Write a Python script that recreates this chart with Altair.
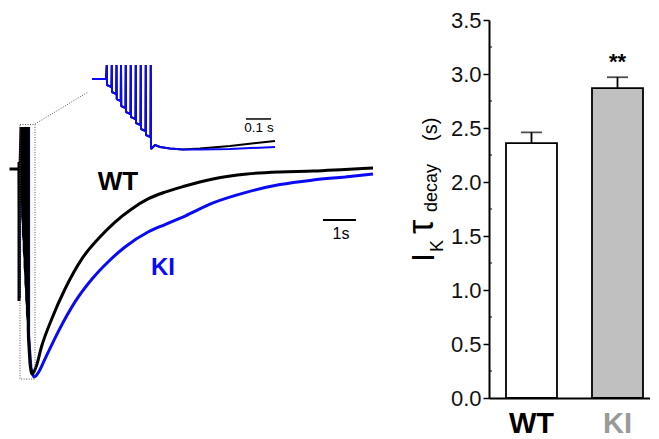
import altair as alt
import pandas as pd

# ---------------- bar chart data ----------------
groups = ["WT", "KI"]
tau_mean = [2.36, 2.87]
tau_sem = [0.10, 0.10]
sig_text = ["", "**"]
y_ticks = [0.0, 0.5, 1.0, 1.5, 2.0, 2.5, 3.0, 3.5]
y_minor = [0.25, 0.75, 1.25, 1.75, 2.25, 2.75, 3.25]

# ---------------- main traces: time (s), normalized current ----------------
wt_pre_t = [-0.318, -0.03, -0.03, -0.03, -0.02, 0.0]
wt_pre_i = [0.0, 0.0, 0.034, -0.635, 0.0, 0.0]
ki_pre_t = [-0.03, -0.02, -0.01, 0.0]
ki_pre_i = [0.0, -0.30, -0.62, 0.0]
stim_t = [0.030, 0.054, 0.079, 0.103, 0.127, 0.152, 0.176, 0.200, 0.224, 0.248]
stim_top = 0.202
wt_stim_bottom = [-0.048, -0.144, -0.231, -0.317, -0.394, -0.471, -0.548, -0.625, -0.697, -0.769]
ki_stim_t = [0.050, 0.074, 0.099, 0.123, 0.147, 0.172, 0.196, 0.220, 0.244, 0.268]
ki_stim_bottom = [-0.06, -0.16, -0.25, -0.34, -0.42, -0.50, -0.58, -0.66, -0.73, -0.80]
wt_stim_end_t = [0.258, 0.303]
wt_stim_end_i = [-0.817, -0.938]
ki_stim_end_t = [0.29, 0.34]
ki_stim_end_i = [-0.85, -0.96]
wt_rec_t = [0.303, 0.364, 0.485, 0.658, 0.961, 1.364, 1.870, 2.364, 2.879, 3.385,
            3.879, 4.394, 5.0, 5.848, 6.879, 7.879, 8.879, 9.848, 10.697]
wt_rec_i = [-0.938, -0.986, -0.952, -0.851, -0.721, -0.577, -0.433, -0.337, -0.255,
            -0.192, -0.144, -0.111, -0.082, -0.048, -0.024, -0.014, -0.010, -0.002, 0.005]
ki_rec_t = [0.34, 0.424, 0.545, 0.758, 1.152, 1.667, 2.182, 2.667, 3.182, 3.879,
            4.394, 5.0, 5.848, 6.879, 7.879, 8.879, 9.848, 10.697]
ki_rec_i = [-0.96, -1.0, -0.981, -0.913, -0.784, -0.639, -0.529, -0.447, -0.375,
            -0.303, -0.267, -0.226, -0.163, -0.111, -0.075, -0.053, -0.038, -0.024]

# ---------------- inset traces (expanded time) ----------------
in_pre_t = [0.0, 0.056]
in_pre_i = [0.0, 0.0]
in_spike_t = [0.059, 0.079, 0.098, 0.116, 0.135, 0.155, 0.175, 0.195, 0.215, 0.235]
in_top = 0.2
in_spike_bottom = [-0.086, -0.186, -0.286, -0.386, -0.471, -0.543, -0.629, -0.714, -0.800, -1.0]
in_post_t = [0.252, 0.272, 0.312, 0.364]
in_post_i = [-0.943, -0.971, -0.993, -1.007]
in_wt_end_t = [0.432, 0.552, 0.732]
in_wt_end_i = [-0.993, -0.957, -0.886]
in_ki_end_t = [0.432, 0.552, 0.732]
in_ki_end_i = [-1.007, -1.0, -0.971]

# zoom box / scale bars (data units)
box_t = [0.0, 0.455]
box_i = [-1.01, 0.214]
link_t = [0.455, 2.06]
link_i = [0.216, 0.370]
bar1s_t = [9.18, 10.18]
bar1s_i = -0.245
bar01_t = [0.616, 0.716]
bar01_i = -0.571

BLUE = "#0a0af5"
FONT = "Liberation Sans"

# ---------------- layout ----------------
H = 378
WL = 370
WR = 161
main_x = [-12 / 33, (WL - 12) / 33]
main_y = [(149 - H) / 208, 149 / 208]
ins_x = [-84 / 250, (WL - 84) / 250]
ins_y = [(59 - H) / 70, 59 / 70]


def path_df(pre_t, pre_i, sp_t, sp_b, top, post_t, post_i, step):
    pts = list(zip(pre_t, pre_i))
    for k, (t, b) in enumerate(zip(sp_t, sp_b)):
        pts.append((t, top))
        pts.append((t + step * 0.05, b))
        if k + 1 < len(sp_t):
            pts.append((sp_t[k + 1] - step * 0.05, b - 0.03))
    pts += list(zip(post_t, post_i))
    return pd.DataFrame({"t": [p[0] for p in pts], "i": [p[1] for p in pts],
                         "k": list(range(len(pts)))})


def line(df, color, width, xd, yd, interp="linear"):
    return alt.Chart(df).mark_line(color=color, strokeWidth=width, strokeJoin="bevel",
                                   interpolate=interp).encode(
        x=alt.X("t:Q", scale=alt.Scale(domain=xd, nice=False, zero=False), axis=None),
        y=alt.Y("i:Q", scale=alt.Scale(domain=yd, nice=False, zero=False), axis=None),
        order="k:Q",
    )


def curve(ts, vs):
    return pd.DataFrame({"t": ts, "i": vs, "k": list(range(len(ts)))})


def xs(v, d):
    return alt.XDatum(v, scale=alt.Scale(domain=d, nice=False, zero=False), axis=None)


def ys(v, d):
    return alt.YDatum(v, scale=alt.Scale(domain=d, nice=False, zero=False), axis=None)


wt_main = path_df(wt_pre_t, wt_pre_i, stim_t, wt_stim_bottom, stim_top,
                  wt_stim_end_t, wt_stim_end_i, 0.024)
ki_main = path_df(ki_pre_t, ki_pre_i, ki_stim_t, ki_stim_bottom, stim_top,
                  ki_stim_end_t, ki_stim_end_i, 0.024)
wt_ins = path_df(in_pre_t, in_pre_i, in_spike_t, in_spike_bottom, in_top,
                 in_post_t + in_wt_end_t, in_post_i + in_wt_end_i, 0.02)
ki_ins = path_df(in_pre_t, in_pre_i, in_spike_t, in_spike_bottom, in_top,
                 in_post_t + in_ki_end_t, in_post_i + in_ki_end_i, 0.02)

one = pd.DataFrame({"a": [0]})

box = alt.Chart(one).mark_rect(fill=None, stroke="#555", strokeWidth=1, strokeDash=[1, 1.5]).encode(
    x=xs(box_t[0], main_x), x2=alt.X2Datum(box_t[1]),
    y=ys(box_i[0], main_y), y2=alt.Y2Datum(box_i[1]))
link = alt.Chart(one).mark_rule(color="#555", strokeWidth=1, strokeDash=[1, 1.5]).encode(
    x=xs(link_t[0], main_x), x2=alt.X2Datum(link_t[1]),
    y=ys(link_i[0], main_y), y2=alt.Y2Datum(link_i[1]))
sb1 = alt.Chart(one).mark_rule(color="black", strokeWidth=2).encode(
    x=xs(bar1s_t[0], main_x), x2=alt.X2Datum(bar1s_t[1]), y=ys(bar1s_i, main_y))

main_group = alt.layer(
    line(ki_main, BLUE, 2.5, main_x, main_y),
    line(curve(ki_rec_t, ki_rec_i), BLUE, 3, main_x, main_y, "monotone"),
    line(wt_main, "black", 3, main_x, main_y),
    line(curve(wt_rec_t, wt_rec_i), "black", 3, main_x, main_y, "monotone"),
    box, link, sb1,
)

sb2 = alt.Chart(one).mark_rule(color="black", strokeWidth=1.5).encode(
    x=xs(bar01_t[0], ins_x), x2=alt.X2Datum(bar01_t[1]), y=ys(bar01_i, ins_y))
inset_group = alt.layer(
    line(wt_ins, "black", 2, ins_x, ins_y),
    line(ki_ins, BLUE, 2, ins_x, ins_y),
    sb2,
)


def label(txt, x, y, size, color="black", weight="normal", align="center", baseline="middle", angle=0):
    kw = dict(text=txt, font=FONT, fontSize=size, color=color, fontWeight=weight,
              align=align, baseline=baseline)
    if angle:
        kw["angle"] = angle
    return alt.Chart(one).mark_text(**kw).encode(x=alt.value(x), y=alt.value(y))


texts = alt.layer(
    label("WT", 110, 161.5, 26, weight="bold"),
    label("KI", 155, 247.5, 24, color=BLUE, weight="bold"),
    label("1s", 333, 214, 16),
    label("0.1 s", 251, 107.5, 13.5),
)

left = alt.layer(main_group, inset_group, texts).resolve_scale(
    x="independent", y="independent").properties(width=WL, height=H)

# ---------------- bar chart ----------------
bar_df = pd.DataFrame({"group": groups, "mean": tau_mean, "sem": tau_sem, "sig": sig_text})
bar_df["upper"] = bar_df["mean"] + bar_df["sem"]
minor_df = pd.DataFrame({"v": y_minor})

xenc = alt.X("group:N", sort=groups,
             scale=alt.Scale(paddingInner=0.407, paddingOuter=0.1395, align=0.708),
             axis=alt.Axis(title=None, labelAngle=0, labelFont=FONT, labelFontSize=29,
                           labelFontWeight="bold", ticks=False, labelPadding=11,
                           domainColor="black", domainWidth=2,
                           labelColor={"condition": {"test": "datum.value === 'KI'",
                                                     "value": "#999999"}, "value": "black"}))
yscale = alt.Scale(domain=[0, 3.5], nice=False, zero=True)
yenc = alt.Y("mean:Q", scale=yscale,
             axis=alt.Axis(title=None, values=y_ticks, format=".1f", labelFont=FONT,
                           labelFontSize=22, labelColor="#111", tickSize=6, tickWidth=1.5,
                           tickColor="black", domainColor="black", domainWidth=2,
                           labelPadding=2, grid=False))

bars = alt.Chart(bar_df).mark_bar(stroke="black", strokeWidth=1.8).encode(
    x=xenc, y=yenc,
    fill=alt.Fill("group:N", scale=alt.Scale(domain=groups, range=["white", "#c0c0c0"]), legend=None))
err = alt.Chart(bar_df).mark_rule(color="black", strokeWidth=1.8).encode(
    x=alt.X("group:N", sort=groups), y="mean:Q", y2="upper:Q")
cap = alt.Chart(bar_df).mark_tick(color="black", size=21, thickness=1.8).encode(
    x=alt.X("group:N", sort=groups), y="upper:Q")
sig = alt.Chart(bar_df).mark_text(font=FONT, fontSize=22, fontWeight="bold", dy=-15).encode(
    x=alt.X("group:N", sort=groups), y="upper:Q", text="sig:N")
minor = alt.Chart(minor_df).mark_rule(color="black", strokeWidth=1).encode(
    y=alt.Y("v:Q", scale=yscale), x=alt.value(0), x2=alt.value(3))

title_parts = alt.layer(
    label("I", -55, 242, 32, align="left", baseline="alphabetic", angle=270),
    label("K", -46, 232, 18, align="left", baseline="alphabetic", angle=270),
    label("τ", -56, 214, 36, align="left", baseline="alphabetic", angle=270),
    label("decay", -52, 192, 18, align="left", baseline="alphabetic", angle=270),
    label("(s)", -52, 121, 20, align="left", baseline="alphabetic", angle=270),
)

right = alt.layer(bars, err, cap, sig, minor, title_parts).properties(width=WR, height=H)

chart = alt.hconcat(left, right, spacing=111, bounds="flush").configure_view(
    stroke=None).properties(padding={"left": 0, "top": 1, "right": 0, "bottom": 0})

chart.save("out.html", embed_options={"renderer": "svg", "actions": False})
